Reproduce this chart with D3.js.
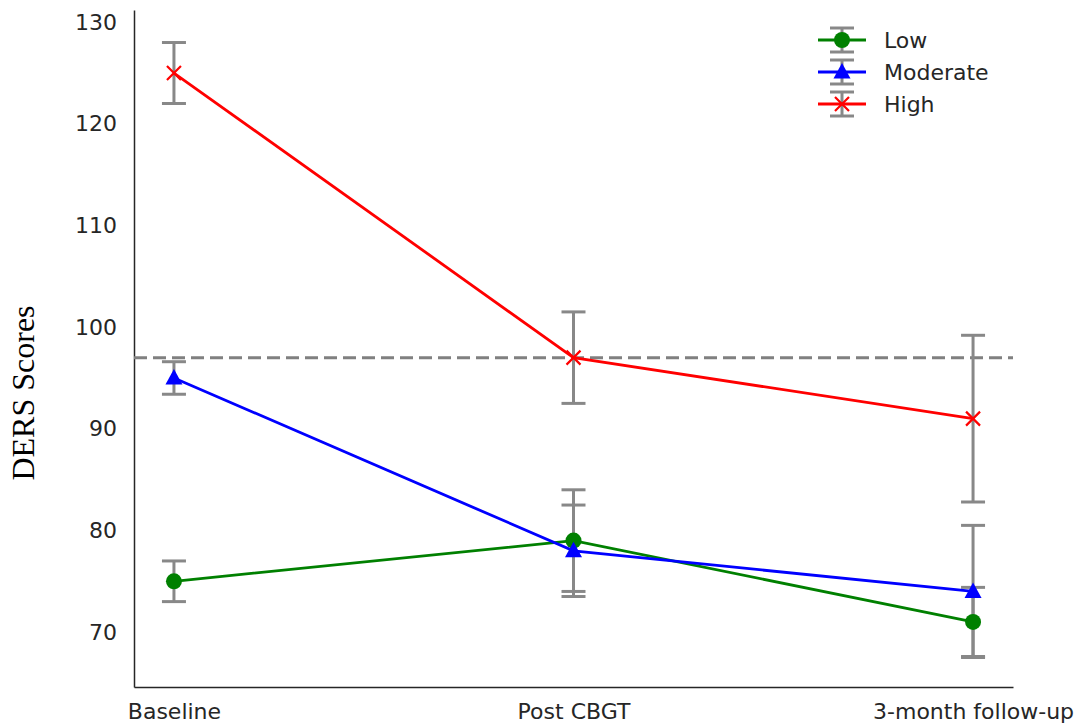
<!DOCTYPE html>
<html>
<head>
<meta charset="utf-8">
<script src="https://cdn.jsdelivr.net/npm/d3@7"></script>
<style>
  body { margin: 0; background: #fff; }
  svg text { fill: #262626; font-family: "DejaVu Sans", sans-serif; }
  svg text.ylabel { font-family: "Liberation Serif", serif; fill: #000; }
</style>
</head>
<body>
<div id="chart"></div>
<script>
// timepoints on the x axis
const timepoints = ["Baseline", "Post CBGT", "3-month follow-up"];
const yTicks = [70, 80, 90, 100, 110, 120, 130];
const groups = ["Low", "Moderate", "High"];
const colors = ["#008000", "#0000ff", "#ff0000"];

// mean scores per group
const lowMeans = [75, 79, 71];
const moderateMeans = [95, 78, 74];
const highMeans = [125, 97, 91];

// error (± value) per group
const lowErr = [2, 5, 3.4];
const moderateErr = [1.6, 4.5, 6.5];
const highErr = [3, 4.5, 8.2];

const cutoff = 97;

const width = 1081, height = 725;
const margin = { top: 10, right: 68, bottom: 38, left: 134 };

const series = [
    { name: groups[0], color: colors[0], marker: "circle", means: lowMeans, err: lowErr },
    { name: groups[1], color: colors[1], marker: "triangle", means: moderateMeans, err: moderateErr },
    { name: groups[2], color: colors[2], marker: "x", means: highMeans, err: highErr }
];

const xScale = d3.scaleLinear()
    .domain([-0.1, timepoints.length - 1 + 0.1])
    .range([margin.left, width - margin.right]);

const yScale = d3.scaleLinear()
    .domain([64.6, 131.2])
    .range([height - margin.bottom, margin.top]);

const svg = d3.select("#chart")
    .append("svg")
    .attr("width", width)
    .attr("height", height);

// axes
const xAxis = g => g
    .attr("transform", `translate(0,${height - margin.bottom})`)
    .call(d3.axisBottom(xScale)
        .tickValues(timepoints.map((d, i) => i))
        .tickFormat(i => timepoints[i])
        .tickSize(0)
        .tickPadding(16))
    .call(g => g.select(".domain").attr("stroke", "#262626").attr("stroke-width", 1.5))
    .selectAll("text")
    .attr("font-size", 22);

const yAxis = g => g
    .attr("transform", `translate(${margin.left},0)`)
    .call(d3.axisLeft(yScale)
        .tickValues(yTicks)
        .tickSize(0)
        .tickPadding(17))
    .call(g => g.select(".domain").attr("stroke", "#262626").attr("stroke-width", 1.5))
    .selectAll("text")
    .attr("font-size", 22);

svg.append("g").call(xAxis);
svg.append("g").call(yAxis);

svg.append("text")
    .attr("class", "ylabel")
    .attr("font-size", 32)
    .attr("text-anchor", "middle")
    .attr("transform", "translate(34,393) rotate(-90)")
    .text("DERS Scores");

// cutoff line
svg.append("line")
    .attr("x1", xScale.range()[0])
    .attr("x2", xScale.range()[1])
    .attr("y1", yScale(cutoff))
    .attr("y2", yScale(cutoff))
    .attr("stroke", "#808080")
    .attr("stroke-width", 3)
    .attr("stroke-dasharray", "13,6");

const drawMarker = (g, type, color, x, y) => {
    if (type === "circle") {
        g.append("circle").attr("cx", x).attr("cy", y).attr("r", 8).attr("fill", color);
    } else if (type === "triangle") {
        g.append("path")
            .attr("d", `M${x},${y - 9}L${x + 8.5},${y + 6.5}L${x - 8.5},${y + 6.5}Z`)
            .attr("fill", color);
    } else {
        const s = 7;
        g.append("path")
            .attr("d", `M${x - s},${y - s}L${x + s},${y + s}M${x - s},${y + s}L${x + s},${y - s}`)
            .attr("stroke", color)
            .attr("stroke-width", 2.2)
            .attr("fill", "none");
    }
};

const errBar = (g, x, y1, y2) => {
    g.append("line").attr("x1", x).attr("x2", x).attr("y1", y1).attr("y2", y2)
        .attr("stroke", "#888").attr("stroke-width", 3);
    [y1, y2].forEach(y => g.append("line")
        .attr("x1", x - 12).attr("x2", x + 12).attr("y1", y).attr("y2", y)
        .attr("stroke", "#888").attr("stroke-width", 3));
};

const line = d3.line()
    .x((d, i) => xScale(i))
    .y(d => yScale(d));

// error bars first, then lines and markers
series.forEach(s => {
    const g = svg.append("g");
    s.means.forEach((m, i) => errBar(g, xScale(i), yScale(m + s.err[i]), yScale(m - s.err[i])));
});

series.forEach(s => {
    const g = svg.append("g");
    g.append("path")
        .datum(s.means)
        .attr("d", line)
        .attr("fill", "none")
        .attr("stroke", s.color)
        .attr("stroke-width", 2.8);
    s.means.forEach((m, i) => drawMarker(g, s.marker, s.color, xScale(i), yScale(m)));
});

// legend
const legend = svg.append("g").attr("transform", "translate(842,40)");
series.forEach((s, i) => {
    const g = legend.append("g").attr("transform", `translate(0,${i * 32})`);
    errBar(g, 0, -12, 12);
    g.append("line").attr("x1", -24).attr("x2", 24)
        .attr("stroke", s.color).attr("stroke-width", 2.8);
    drawMarker(g, s.marker, s.color, 0, 0);
    g.append("text")
        .attr("x", 42)
        .attr("dy", "0.35em")
        .attr("font-size", 22)
        .text(s.name);
});
</script>
</body>
</html>
